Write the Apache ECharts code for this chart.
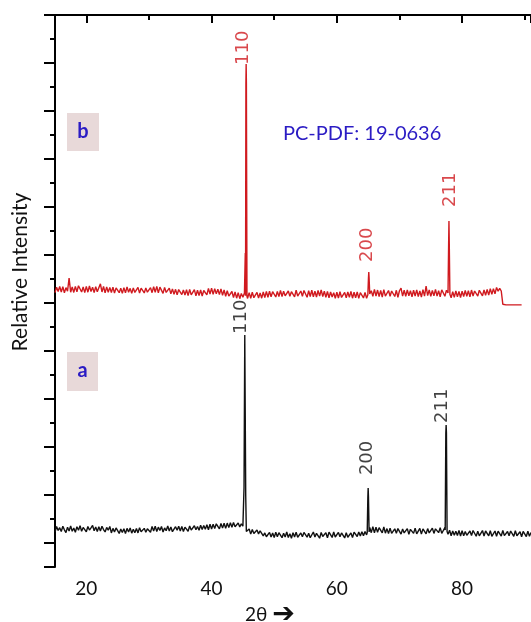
<!DOCTYPE html>
<html>
<head>
<meta charset="utf-8">
<script src="https://cdn.jsdelivr.net/npm/echarts@6/dist/echarts.min.js"></script>
<style>
html,body{margin:0;padding:0;background:#fff;}
#chart{width:531px;height:622px;}
</style>
</head>
<body>
<div id="chart"></div>
<script>
// 2θ sampling grid (degrees)
const twoTheta = [
15,15.25,15.5,15.75,16,16.25,16.5,16.75,17,17.25,17.5,17.75,18,18.25,18.5,18.75,19,19.25,19.5,19.75,
20,20.25,20.5,20.75,21,21.25,21.5,21.75,22,22.25,22.5,22.75,23,23.25,23.5,23.75,24,24.25,24.5,24.75,
25,25.25,25.5,25.75,26,26.25,26.5,26.75,27,27.25,27.5,27.75,28,28.25,28.5,28.75,29,29.25,29.5,29.75,
30,30.25,30.5,30.75,31,31.25,31.5,31.75,32,32.25,32.5,32.75,33,33.25,33.5,33.75,34,34.25,34.5,34.75,
35,35.25,35.5,35.75,36,36.25,36.5,36.75,37,37.25,37.5,37.75,38,38.25,38.5,38.75,39,39.25,39.5,39.75,
40,40.25,40.5,40.75,41,41.25,41.5,41.75,42,42.25,42.5,42.75,43,43.25,43.5,43.75,44,44.25,44.5,44.75,
45,45.25,45.5,45.75,46,46.25,46.5,46.75,47,47.25,47.5,47.75,48,48.25,48.5,48.75,49,49.25,49.5,49.75,
50,50.25,50.5,50.75,51,51.25,51.5,51.75,52,52.25,52.5,52.75,53,53.25,53.5,53.75,54,54.25,54.5,54.75,
55,55.25,55.5,55.75,56,56.25,56.5,56.75,57,57.25,57.5,57.75,58,58.25,58.5,58.75,59,59.25,59.5,59.75,
60,60.25,60.5,60.75,61,61.25,61.5,61.75,62,62.25,62.5,62.75,63,63.25,63.5,63.75,64,64.25,64.5,64.75,
65,65.25,65.5,65.75,66,66.25,66.5,66.75,67,67.25,67.5,67.75,68,68.25,68.5,68.75,69,69.25,69.5,69.75,
70,70.25,70.5,70.75,71,71.25,71.5,71.75,72,72.25,72.5,72.75,73,73.25,73.5,73.75,74,74.25,74.5,74.75,
75,75.25,75.5,75.75,76,76.25,76.5,76.75,77,77.25,77.5,77.75,78,78.25,78.5,78.75,79,79.25,79.5,79.75,
80,80.25,80.5,80.75,81,81.25,81.5,81.75,82,82.25,82.5,82.75,83,83.25,83.5,83.75,84,84.25,84.5,84.75,
85,85.25,85.5,85.75,86,86.25,86.5,86.75,87,87.25,87.5,87.75,88,88.25,88.5,88.75,89,89.25,89.5,89.75,
90,90.25,90.5,90.75,91];

// pattern (a) background, black
const baseA = [
14.6,16.9,15.2,16.4, 14.8,17.0,15.5,14.3, 16.6,15.0,17.1,14.9, 16.2,14.5,16.8,15.3, 17.2,14.9,16.5,15.6,
14.7,16.9,15.4,16.3, 17.3,15.1,16.7,14.8, 16.8,15.0,17.0,15.6, 14.6,16.5,15.3,16.9, 14.2,16.1,14.6,16.3,
16.2,14.0,15.8,14.4, 15.9,13.9,16.1,14.6, 16.3,14.1,15.7,14.3, 16.0,14.2,16.4,14.7, 14.0,16.1,14.5,15.9,
16.6,14.5,16.9,15.0, 17.0,14.8,16.6,15.2, 16.9,14.6,16.3,15.1, 17.1,15.0,16.7,14.7, 14.9,16.8,15.3,17.0,
15.0,16.9,14.8,16.6, 16.7,14.9,17.1,15.4, 15.2,17.2,15.5,16.9, 15.3,17.4,15.6,17.3, 15.7,17.6,15.5,17.8,
15.8,17.8,16.0,18.0, 17.9,15.9,18.1,16.2, 18.2,16.1,18.3,16.4, 18.4,16.6,18.5,16.8, 16.5,18.3,16.7,18.0,
17.0,17.0,16.0,14.6, 15.8,13.7,15.6,14.0, 13.5,15.4,13.8,15.1, 15.3,13.0,14.2,12.6, 12.1,14.4,12.5,14.2,
12.3,14.5,12.6,14.3, 14.4,12.2,14.1,12.5, 14.6,12.3,13.9,12.0, 14.3,12.5,14.5,12.4, 12.1,14.2,12.6,14.4,
14.5,12.4,14.1,12.2, 12.3,14.6,12.5,14.0, 14.2,12.0,14.4,12.7, 12.4,14.3,12.2,14.5, 14.1,12.3,14.6,12.5,
12.2,14.4,12.6,14.2, 14.5,12.1,14.3,12.4, 12.6,14.2,12.3,14.5, 14.0,12.7,14.6,12.9, 14.7,13.0,14.8,13.4,
14.0,16.5,14.3,16.8, 14.2,16.6,14.5,16.4, 16.3,14.2,16.7,14.1, 16.0,13.9,16.2,14.0, 13.8,15.9,14.1,16.0,
16.1,13.7,15.8,14.2, 13.9,16.0,13.6,15.7, 15.9,14.0,16.2,13.8, 14.1,16.1,13.7,15.9, 15.8,13.8,16.0,14.2,
13.9,16.2,14.0,15.9, 16.1,14.3,16.4,14.0, 15.2,16.4,15.0,13.6, 15.3,13.0,15.0,13.2, 14.9,13.1,15.2,12.9,
15.1,13.0,14.8,13.2, 12.9,15.0,13.1,15.2, 15.1,12.8,14.9,13.0, 13.1,15.2,12.9,15.0, 14.8,13.0,15.1,12.8,
13.2,15.0,12.8,14.9, 15.0,12.9,15.2,13.1, 12.7,14.8,13.0,15.0, 14.9,12.8,15.1,13.0, 12.9,14.7,12.6,14.8,
14.6,12.7,14.9,12.8, 14.4];

// pattern (b) background, red
const baseB = [
114.3,116.6,114.8,116.9, 114.6,116.8,114.2,116.4, 114.9,120.4,114.5,116.7, 114.4,116.9,114.7,117.2, 117.8,114.6,116.7,114.3,
116.9,114.5,117.1,114.8, 116.6,114.3,116.8,114.7, 116.4,118.0,114.6,116.9, 114.2,116.7,114.5,116.5, 114.4,116.6,114.1,116.3,
116.5,114.3,116.2,114.0, 116.4,114.2,116.7,114.5, 116.1,114.0,116.3,114.4, 114.3,116.5,114.1,116.2, 116.6,114.2,116.3,114.5,
114.1,116.4,114.3,116.8, 114.5,116.9,114.2,116.6, 116.3,114.0,116.5,114.4, 114.1,116.2,113.8,115.9, 113.6,115.7,113.4,115.6,
115.9,113.5,115.4,113.3, 115.5,113.1,115.7,113.4, 113.2,115.6,113.0,115.3, 113.1,115.4,112.9,115.2, 115.8,113.4,116.1,113.7,
116.2,113.6,116.0,113.8, 115.7,113.5,115.9,113.2, 115.4,112.8,115.1,112.9, 112.6,114.8,112.3,114.6, 112.0,114.3,111.8,114.0,
112.4,114.2,113.0,111.9, 114.3,112.0,114.5,112.2, 111.9,114.4,112.1,114.2, 112.0,114.6,112.3,114.8, 112.4,114.9,112.6,114.7,
115.0,112.5,114.8,112.7, 115.2,112.7,114.9,113.0, 112.4,115.0,112.8,114.7, 115.1,112.6,115.3,112.9, 112.5,115.0,112.8,115.2,
114.8,112.4,115.1,112.7, 115.3,112.6,114.9,112.5, 115.2,112.9,115.5,112.7, 114.9,112.4,114.8,112.2, 114.6,112.5,114.3,112.0,
114.5,112.1,114.7,112.3, 111.9,114.4,112.2,114.6, 112.4,114.8,112.0,114.5, 112.2,114.6,111.9,114.3, 114.7,112.1,114.4,112.0,
113.5,113.5,115.1,112.8, 115.7,112.9,115.4,112.7, 115.2,112.5,115.6,112.9, 112.6,115.2,112.8,115.0, 115.5,112.7,115.3,112.4,
115.1,116.2,112.9,115.3, 112.8,115.4,113.0,115.1, 112.6,115.3,112.9,115.5, 112.7,115.0,112.5,115.6, 112.9,117.0,113.1,115.4,
112.8,115.2,113.0,115.7, 112.9,115.1,112.6,115.5, 115.0,112.8,115.3,113.9, 114.0,112.2,114.7,112.4, 115.0,112.6,114.8,112.3,
114.9,112.7,115.2,112.8, 115.1,112.6,115.4,112.9, 115.0,115.5,112.9,115.3, 115.6,113.0,115.4,113.2, 115.7,113.3,116.0,113.6,
116.0,113.8,116.5,114.9, 116.1,115.0,109.5,109.2, 109.2,109.2,109.2,109.2, 109.2,109.2,109.2,109.2, 109.2,109.2,109.2];

// diffraction peaks [2θ, intensity]
const peaksA = [
  [[45.1,17.0],[45.18,33.0],[45.22,33.0],[45.3,96.7],[45.38,96.7],[45.45,30.0],[45.55,14.8]],
  [[64.85,14.3],[64.95,29.2],[65.0,32.9],[65.05,29.2],[65.15,14.6]],
  [[77.3,15.4],[77.4,55.8],[77.45,59.2],[77.5,55.8],[77.6,14.8]]
];
const peaksB = [
  [[45.3,113.5],[45.38,130.8],[45.42,113.0],[45.48,201.7],[45.52,209.6],[45.56,201.7],[45.65,112.8]],
  [[64.95,113.4],[65.05,120.5],[65.1,122.9],[65.15,120.5],[65.25,113.8]],
  [[77.75,114.2],[77.85,135.0],[77.9,144.2],[77.95,135.0],[78.05,113.6]]
];

// Miller index labels: [text, 2θ, intensity at label foot]
const hklA = [['110',44.7,97.1],['200',64.8,38.3],['211',76.8,60.0]];
const hklB = [['110',45.1,209.2],['200',64.8,127.1],['211',78.07,150.0]];

const sampleA = 'a', sampleB = 'b';
const cardText = 'PC-PDF: 19-0636';
const xName = '2θ';
const yName = 'Relative Intensity';

function build(theta, base, peaks) {
  const pts = [];
  for (let i = 0; i < base.length; i++) {
    const t = theta[i];
    const inPeak = peaks.some(p => t >= p[0][0] && t <= p[p.length - 1][0]);
    if (!inPeak) pts.push([t, base[i]]);
  }
  peaks.forEach(p => p.forEach(q => pts.push(q)));
  pts.sort((a, b) => a[0] - b[0]);
  return pts;
}

const RED = '#d01a1f', BLACK = '#111111', BLUE = '#2b1cc4';

function labelSeries(list, color) {
  return {
    type: 'scatter', yAxisIndex: 1, symbolSize: 0, silent: true,
    data: list.map(d => ({ name: d[0], value: [d[1], d[2]] })),
    label: {
      show: true, formatter: '{b}', position: [0, 0], rotate: 90,
      align: 'left', verticalAlign: 'middle',
      fontFamily: 'DejaVu Sans', fontSize: 18, color: color
    }
  };
}

const chart = echarts.init(document.getElementById('chart'), null, { renderer: 'canvas' });
chart.setOption({
  animation: false,
  backgroundColor: '#fff',
  grid: { left: 55, right: 0, top: 15, bottom: 55, containLabel: false, outerBoundsMode: 'none' },
  xAxis: {
    type: 'value', min: 15, max: 91, splitNumber: 5,
    axisLine: { lineStyle: { color: '#000', width: 2 } },
    axisTick: { length: 8, lineStyle: { color: '#000', width: 2 } },
    minorTick: { show: true, splitNumber: 2, length: 5, lineStyle: { color: '#000', width: 2 } },
    splitLine: { show: false },
    axisLabel: { showMinLabel: false, showMaxLabel: false, fontFamily: 'Lato', fontSize: 19, color: '#111', margin: 12 },
    name: xName + ' {arr|➔}', nameLocation: 'middle', nameGap: 36, nameMoveOverlap: false,
    nameTextStyle: { fontFamily: 'Lato', fontSize: 19, lineHeight: 24, color: '#111', padding: [0, 46, 0, 0],
      rich: { arr: { fontFamily: 'DejaVu Sans', fontWeight: 'bold', fontSize: 27, lineHeight: 24, color: '#111' } } }
  },
  yAxis: [{
    type: 'value', inverse: true, min: 0, max: 23, interval: 2,
    axisLine: { show: true, lineStyle: { color: '#000', width: 2 } },
    axisTick: { show: true, length: 11, lineStyle: { color: '#000', width: 2 } },
    minorTick: { show: true, splitNumber: 2, length: 5, lineStyle: { color: '#000', width: 2 } },
    axisLabel: { show: false }, splitLine: { show: false },
    name: yName, nameLocation: 'middle', nameGap: 24, nameMoveOverlap: false,
    nameTextStyle: { fontFamily: 'Lato', fontSize: 21, color: '#111', padding: [0, 0, 0, 38] }
  }, {
    type: 'value', min: 0, max: 230, show: false
  }],
  graphic: [
    { type: 'rect', shape: { x: 67, y: 113, width: 32, height: 38 }, style: { fill: '#e8d9d9' } },
    { type: 'text', x: 83, y: 132, style: { text: sampleB, fill: BLUE, font: 'bold 20px Lato', align: 'center', verticalAlign: 'middle' } },
    { type: 'rect', shape: { x: 67, y: 352, width: 31, height: 39 }, style: { fill: '#e8d9d9' } },
    { type: 'text', x: 82.5, y: 371, style: { text: sampleA, fill: BLUE, font: 'bold 20px Lato', align: 'center', verticalAlign: 'middle' } },
    { type: 'text', x: 283, y: 134, style: { text: cardText, fill: BLUE, font: '20px Lato', align: 'left', verticalAlign: 'middle' } }
  ],
  series: [
    { type: 'line', yAxisIndex: 1, data: build(twoTheta, baseA, peaksA), showSymbol: false, symbol: 'none',
      lineStyle: { color: BLACK, width: 1.4 } },
    { type: 'line', yAxisIndex: 1, data: build(twoTheta, baseB, peaksB), showSymbol: false, symbol: 'none',
      lineStyle: { color: RED, width: 1.4 } },
    labelSeries(hklA, BLACK),
    labelSeries(hklB, RED)
  ]
});
</script>
</body>
</html>
